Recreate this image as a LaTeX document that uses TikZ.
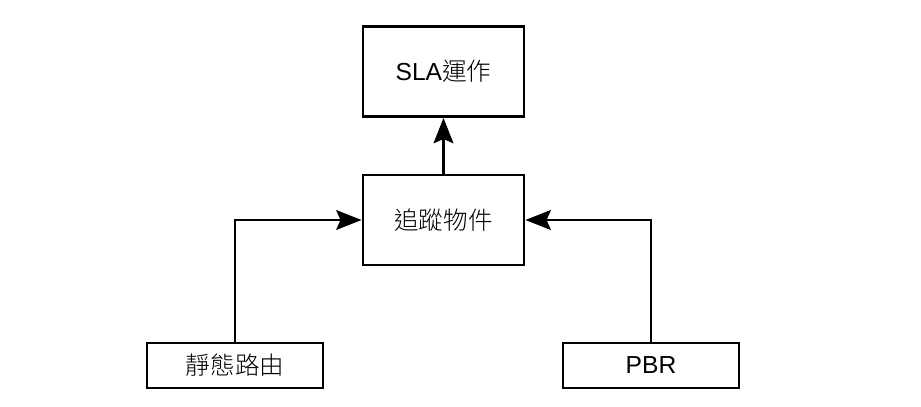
\documentclass[tikz,border=0pt]{standalone}
\usepackage{fontspec}
\setmainfont{Liberation Sans}
\newfontfamily\cjk{Noto Sans CJK TC}[UprightFont={* Light}]
\usetikzlibrary{arrows.meta, positioning}
\tikzset{
    >={Stealth[length=18pt, width=14pt, inset=3pt]},
    block/.style={draw, line width=2pt, minimum width=4.025cm, minimum height=2.25cm,
        font=\fontsize{17.5}{20}\selectfont},
    source/.style={block, minimum width=4.4cm, minimum height=1.125cm},
    link/.style={->, line width=2pt},
}
\begin{document}
\begin{tikzpicture}[x=0.025cm, y=-0.025cm]
        \useasboundingbox (0,0) rectangle (921,407);
        \node[block] (sla) at (443.5,71.5) {SLA{\cjk 運作}};
        \node[block] (track) at (443.5,220) {\cjk 追蹤物件};
        \node[source] (static) at (235,365.5) {\cjk 靜態路由};
        \node[source] (pbr) at (651,365.5) {PBR};
        \draw[link] (track) -- (sla);
        \draw[link] (static.north) |- (track.west);
        \draw[link] (pbr.north) |- (track.east);
    \end{tikzpicture}
\end{document}
